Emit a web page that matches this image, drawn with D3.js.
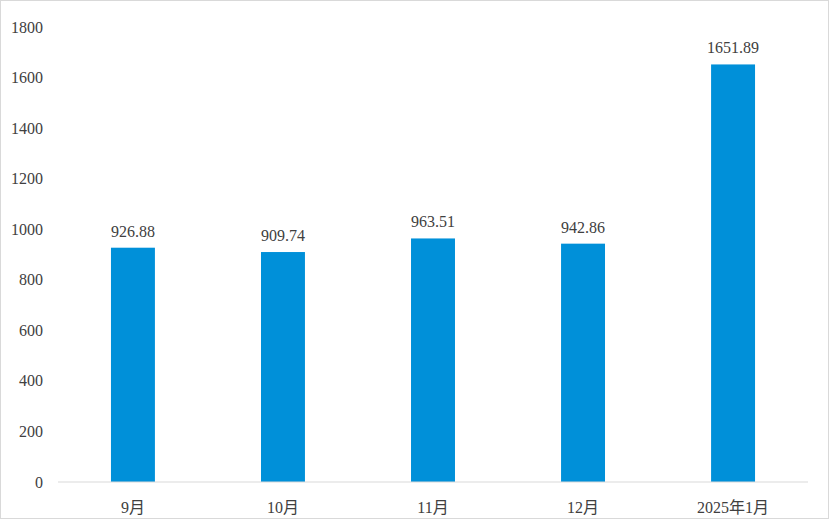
<!DOCTYPE html>
<html>
<head>
<meta charset="utf-8">
<script src="https://cdn.jsdelivr.net/npm/d3@7"></script>
<style>
  body { margin: 0; background: #fff; }
  text { font-family: "Liberation Serif", "Noto Sans CJK SC", serif; fill: #404040; }
</style>
</head>
<body>
<svg id="chart" width="830" height="528"></svg>
<script>
// Chart data
const months = ["9月", "10月", "11月", "12月", "2025年1月"];
const values = [926.88, 909.74, 963.51, 942.86, 1651.89];
const yTicks = [0, 200, 400, 600, 800, 1000, 1200, 1400, 1600, 1800];

const svg = d3.select("#chart");
const margin = { left: 58, right: 22, top: 27, bottom: 46 };
const width = 830, height = 528;

// Sheet frame
svg.append("rect")
    .attr("x", 0.5).attr("y", 0.5)
    .attr("width", width - 2).attr("height", height - 10)
    .attr("fill", "none").attr("stroke", "#d9d9d9");

const x = d3.scaleBand()
    .domain(months)
    .range([margin.left, width - margin.right])
    .paddingInner(0.707).paddingOuter(0.353);

const y = d3.scaleLinear()
    .domain([0, 1800])
    .range([height - margin.bottom, margin.top]);

// Y axis labels
svg.append("g")
    .selectAll("text")
    .data(yTicks)
    .join("text")
    .attr("x", 43)
    .attr("y", d => y(d))
    .attr("dy", "0.35em")
    .attr("text-anchor", "end")
    .attr("font-size", 16)
    .text(d => d);

// Bars
svg.append("g")
    .selectAll("rect")
    .data(values)
    .join("rect")
    .attr("x", (d, i) => x(months[i]))
    .attr("y", d => y(d))
    .attr("width", x.bandwidth())
    .attr("height", d => y(0) - y(d))
    .attr("fill", "#0090d9");

// Value labels
svg.append("g")
    .selectAll("text")
    .data(values)
    .join("text")
    .attr("x", (d, i) => x(months[i]) + x.bandwidth() / 2)
    .attr("y", d => y(d) - 11)
    .attr("text-anchor", "middle")
    .attr("font-size", 16)
    .text(d => d.toFixed(2));

// Baseline
svg.append("line")
    .attr("x1", margin.left).attr("x2", width - margin.right)
    .attr("y1", y(0)).attr("y2", y(0))
    .attr("stroke", "#d9d9d9");

// X labels
svg.append("g")
    .selectAll("text")
    .data(months)
    .join("text")
    .attr("x", d => x(d) + x.bandwidth() / 2)
    .attr("y", 513)
    .attr("text-anchor", "middle")
    .attr("font-size", 16)
    .text(d => d);
</script>
</body>
</html>
